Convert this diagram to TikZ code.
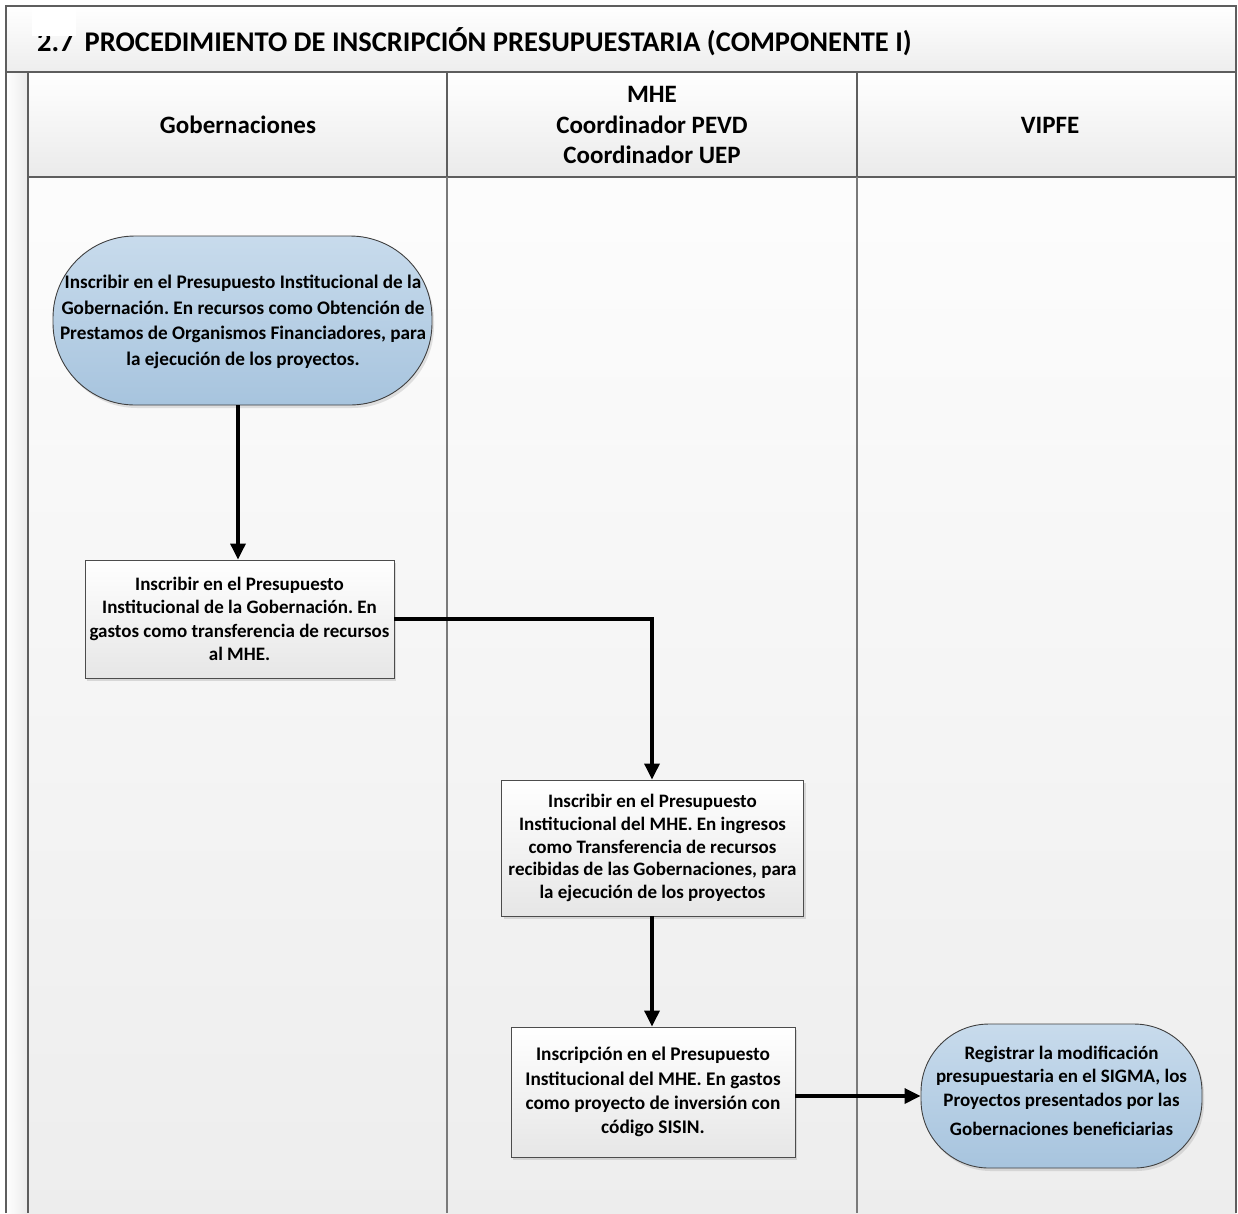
\documentclass[tikz,border=0pt]{standalone}
\usepackage{fontspec}
\setmainfont{Carlito}
\usetikzlibrary{arrows.meta,shadows}
\frenchspacing
\definecolor{framegray}{HTML}{5E5E5E}
\definecolor{lanegray}{HTML}{7A7A7A}
\definecolor{bluetop}{HTML}{C8DBEC}
\definecolor{bluebot}{HTML}{A7C4DE}
\definecolor{boxbot}{HTML}{E6E6E6}
\tikzset{
  frameline/.style={draw=framegray, line width=1.8pt},
  laneline/.style={draw=lanegray, line width=1.2pt},
  headtext/.style={font=\fontsize{25}{30.5}\selectfont\bfseries, align=center},
  terminal/.style={draw=black!75, line width=0.9pt, top color=bluetop, bottom color=bluebot,
    inner sep=0pt,
    drop shadow={opacity=0.22, shadow xshift=2pt, shadow yshift=-3pt}},
  steptext/.style={align=center, inner sep=0pt, font=\fontsize{19.2}{25.5}\selectfont\bfseries},
  process/.style={draw=black!70, line width=0.9pt, top color=white, bottom color=boxbot,
    align=center, inner sep=0pt, font=\fontsize{19}{23.3}\selectfont\bfseries,
    drop shadow={opacity=0.25, shadow xshift=2pt, shadow yshift=-3pt}},
  flow/.style={draw=black, line width=3.3pt, -{Triangle[length=16pt,width=15pt]}},
}
\begin{document}
\begin{tikzpicture}[x=1pt,y=-1pt]
\useasboundingbox (0,0) rectangle (1238,1213);
\fill[white] (0,0) rectangle (1238,1213);

% backgrounds of the pool
\shade[top color=white, bottom color=black!7] (6,6) rectangle (1236,72);
\shade[left color=white, right color=black!8] (6,72) rectangle (28,1213);
\shade[top color=white, bottom color=black!8] (28,72) rectangle (1236,177);
\shade[top color=black!1, bottom color=black!7] (28,177) rectangle (1236,1213);

% title
\node[anchor=base west, inner sep=0pt, font=\fontsize{28.5}{32}\selectfont\bfseries] (title) at (37,51)
  {2.7\hspace{11pt}PROCEDIMIENTO DE INSCRIPCIÓN PRESUPUESTARIA (COMPONENTE I)};
\fill[white] (32,7) rectangle (76,36);

% pool frame and lanes
\draw[frameline] (6,1213) -- (6,6) -- (1236,6) -- (1236,1213);
\draw[frameline] (6,72) -- (1236,72);
\draw[frameline] (28,177) -- (1236,177);
\draw[frameline] (28,72) -- (28,1213);
\draw[frameline] (447,72) -- (447,177);
\draw[frameline] (857,72) -- (857,177);
\draw[laneline] (447,177) -- (447,1213);
\draw[laneline] (857,177) -- (857,1213);

% lane headers
\node[headtext] (lane1) at (238,125) {Gobernaciones};
\node[headtext] (lane2) at (652,125) {MHE\\Coordinador PEVD\\Coordinador UEP};
\node[headtext] (lane3) at (1050,125) {VIPFE};

% steps
\node[terminal, minimum width=379pt, minimum height=169pt, rounded corners=82pt] (s1) at (242.5,320.5) {};
\node[steptext] (s1text) at (243,322)
  {Inscribir en el Presupuesto Institucional de la\\
   Gobernación. En recursos como Obtención de\\
   Prestamos de Organismos Financiadores, para\\
   la ejecución de los proyectos.};
\node[process, minimum width=309pt, minimum height=118pt] (s2) at (239.5,619)
  {Inscribir en el Presupuesto\\
   Institucional de la Gobernación. En\\
   gastos como transferencia de recursos\\
   al MHE.};
\node[process, minimum width=302pt, minimum height=136pt, font=\fontsize{19}{22.6}\selectfont\bfseries] (s3) at (652.5,848)
  {Inscribir en el Presupuesto\\
   Institucional del MHE. En ingresos\\
   como Transferencia de recursos\\
   recibidas de las Gobernaciones, para\\
   la ejecución de los proyectos};
\node[process, minimum width=284pt, minimum height=130pt, font=\fontsize{19.3}{24.3}\selectfont\bfseries] (s4) at (653,1092)
  {Inscripción en el Presupuesto\\
   Institucional del MHE. En gastos\\
   como proyecto de inversión con\\
   código SISIN.};
\node[terminal, minimum width=281pt, minimum height=144pt, rounded corners=68pt] (s5) at (1061.5,1096) {};
\node[steptext, font=\fontsize{19}{23.5}\selectfont\bfseries] (s5text) at (1061.5,1091)
  {Registrar la modificación\\
   presupuestaria en el SIGMA, los\\
   Proyectos presentados por las\\[6pt]
   Gobernaciones beneficiarias};

% connectors
\draw[flow] (s1.south -| 238,0) -- (s2.north -| 238,0);
\draw[flow] (s2.east) -| (s3.north -| 652,0);
\draw[flow] (s3.south -| 652,0) -- (s4.north -| 652,0);
\draw[flow] (s4.east |- s5.west) -- (s5.west);
\end{tikzpicture}
\end{document}
